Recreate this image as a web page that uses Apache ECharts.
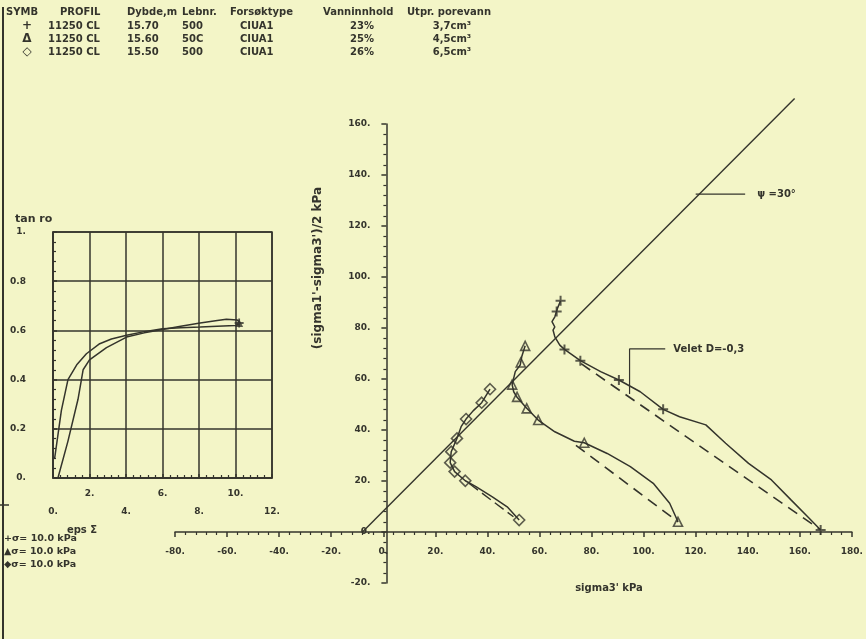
<!DOCTYPE html>
<html>
<head>
<meta charset="utf-8">
<script src="https://cdn.jsdelivr.net/npm/echarts@6/dist/echarts.min.js"></script>
<style>
html,body{margin:0;padding:0;background:#f3f5c7;}
#c{width:866px;height:639px;}
</style>
</head>
<body>
<div id="c"></div>
<script>
// ---------- header table ----------
const headerCols = ['SYMB','PROFIL','Dybde,m','Lebnr.','Forsøktype','Vanninnhold','Utpr. porevann'];
const rowSymbols = ['+','Δ','◇'];
const rowProfil = ['11250 CL','11250 CL','11250 CL'];
const rowDepth = ['15.70','15.60','15.50'];
const rowLabNr = ['500','50C','500'];
const rowTestType = ['CIUA1','CIUA1','CIUA1'];
const rowWater = ['23%','25%','26%'];
const rowPoreWater = ['3,7cm³','4,5cm³','6,5cm³'];

// ---------- left chart: tan ro vs eps ----------
const tanA = [[0.09,0.08],[0.46,0.275],[0.82,0.40],[1.3,0.46],[1.83,0.505],[2.56,0.546],[3.2,0.565],[4.03,0.58],[5.0,0.595],[6.0,0.607],[7.0,0.611],[8.06,0.614],[9.0,0.617],[9.98,0.62],[10.2,0.625]];
const tanB = [[0.27,0.0],[0.82,0.15],[1.37,0.32],[1.65,0.44],[2.0,0.48],[2.93,0.53],[4.03,0.573],[5.0,0.59],[6.0,0.604],[7.0,0.617],[8.06,0.63],[9.0,0.64],[9.5,0.645],[10.1,0.642],[10.25,0.63]];
const tanEnd = [[10.2,0.63]];

// ---------- right chart: stress paths ----------
const failureLine = [[-8,0],[158,170]];
const plusPath = [[168,0.8],[163.5,5.5],[156.7,12.5],[149.1,20.4],[140.3,26.9],[131.5,34.8],[123.9,42],[113.8,45.2],[107.5,48.1],[98.7,55],[90.5,59.6],[83.5,62.9],[75.7,67.2],[69.6,71.6],[67.8,73.3],[65.9,76.5],[65.2,79.2],[65.9,80.4],[64.8,82.5],[65.9,84.4],[66.9,87.7],[68.1,90.7]];
const plusMarks = [[168,0.8],[107.5,48.1],[90.5,59.6],[75.7,67.2],[69.6,71.6],[66.6,86.5],[68.1,90.7]];
const plusDash = [[76,66],[168,0.8]];
const triPath = [[113.2,4],[110,11.3],[103.7,19.1],[94.9,25.6],[86,30.8],[77.2,35],[73.4,35.6],[65.9,39.3],[59.5,43.9],[55.1,48.5],[51.4,52.8],[50.1,55],[49.5,57.8],[50.7,62.9],[52.6,65.5],[53.2,68.8],[54.5,73]];
const triMarks = [[113.2,4],[77.2,35],[59.5,43.9],[55.1,48.5],[51.4,53],[49.5,57.8],[52.8,66.5],[54.5,73]];
const triDash = [[74,34],[113.2,4]];
const diaPath = [[52.2,4.7],[47.6,9.9],[41.9,13.8],[35.6,17.8],[31.5,20.1],[27.4,23.7],[25.7,27.2],[26.1,31.5],[28.3,36.7],[29.9,41.3],[31.8,44.3],[34.5,47.5],[37.8,50.7],[41,56]];
const diaMarks = [[52.2,4.7],[31.5,20.1],[27.4,23.7],[25.7,27.2],[26.1,31.5],[28.3,36.7],[31.8,44.3],[37.8,50.7],[41,56]];
const diaDash = [[33,19],[50,6]];
const phiLeader = [[120,132.5],[139,132.5]];
const phiText = 'ψ =30°';
const dLeader = [[94.6,54.1],[94.6,71.8],[108.3,71.8]];
const dText = 'Velet D=-0,3';
const legendLines = ['+σ= 10.0 kPa','▲σ= 10.0 kPa','◆σ= 10.0 kPa'];

const INK = '#34342c';
const FONT = 'DejaVu Sans';
const PLUS = 'path://M4,0H6V4H10V6H6V10H4V6H0V4H4Z';

// right-chart frame (layout only)
const RG = {left:175, top:124, width:687, height:459};
const RX = {min:-80, max:180};
const RY = {min:-20, max:160};
const yAxisShift = -RG.width * (0 - RX.min) / (RX.max - RX.min);
const xAxisShift = -RG.height * (0 - RY.min) / (RY.max - RY.min);

const chart = echarts.init(document.getElementById('c'), null, {renderer:'canvas'});

function plainText(x, y, s, opt){
  opt = opt || {};
  return {type:'text', x:x, y:y, silent:true, rotation:opt.rot||0,
    style:{text:s, fill:INK, font:'bold ' + (opt.size||10) + 'px "' + FONT + '"',
      textAlign:opt.align||'left', textVerticalAlign:'middle'}};
}

const graphics = [];
graphics.push({type:'line', shape:{x1:3,y1:7,x2:3,y2:639}, style:{stroke:INK, lineWidth:2}});
graphics.push({type:'line', shape:{x1:0,y1:505,x2:9,y2:505}, style:{stroke:INK, lineWidth:1.5}});
const colX = [6,60,127,182,230,323,407];
headerCols.forEach((h,i)=>graphics.push(plainText(colX[i], 12, h, {size:10})));
const rowY = [26,39,52];
for (let r=0;r<3;r++){
  const y = rowY[r];
  graphics.push(plainText(27, y, rowSymbols[r], {align:'center', size:12}));
  graphics.push(plainText(48, y, rowProfil[r]));
  graphics.push(plainText(127, y, rowDepth[r]));
  graphics.push(plainText(182, y, rowLabNr[r]));
  graphics.push(plainText(240, y, rowTestType[r]));
  graphics.push(plainText(362, y, rowWater[r], {align:'center'}));
  graphics.push(plainText(452, y, rowPoreWater[r], {align:'center'}));
}
graphics.push(plainText(15, 219, 'tan ro', {size:11}));
graphics.push(plainText(82, 530, 'eps Σ', {align:'center'}));
legendLines.forEach((s,i)=>graphics.push(plainText(4, 539 + i*13, s, {size:9.5})));
graphics.push(plainText(609, 588, "sigma3' kPa", {align:'center'}));
graphics.push(plainText(318, 268, "(sigma1'-sigma3')/2 kPa", {align:'center', rot:Math.PI/2, size:12}));

const lineBase = {type:'line', showSymbol:false, symbol:'none', silent:true, animation:false,
  lineStyle:{color:INK, width:1.5}};
function pathSeries(data, xi, yi, extra){
  return Object.assign({}, lineBase, {data:data, xAxisIndex:xi, yAxisIndex:yi}, extra||{});
}
function markSeries(data, symbol, size, xi, yi, filled){
  return {type:'scatter', data:data, xAxisIndex:xi, yAxisIndex:yi, symbol:symbol, symbolSize:size,
    silent:true, animation:false,
    itemStyle: filled ? {color:INK} : {color:'#f3f5c7', borderColor:INK, borderWidth:1.6}};
}
const labelStyle = {color:INK, fontFamily:FONT, fontWeight:'bold', fontSize:9};

const option = {
  backgroundColor:'#f3f5c7',
  animation:false,
  graphic: graphics,
  grid:[
    {left:53, top:232, width:219, height:246, show:true, borderColor:INK, borderWidth:1.5, backgroundColor:'transparent'},
    RG
  ],
  xAxis:[
    {gridIndex:0, type:'value', position:'bottom', min:0, max:12, interval:2,
     axisLine:{show:true, lineStyle:{color:INK, width:1.5}},
     axisTick:{show:true, inside:true, length:4, lineStyle:{color:INK, width:1.5}},
     minorTick:{show:true, splitNumber:5, length:3, lineStyle:{color:INK, width:1.2}},
     splitLine:{show:true, lineStyle:{color:INK, width:1.5}},
     axisLabel:Object.assign({margin:11, formatter:v=>(v%4===2? v+'.' : '')}, labelStyle)},
    {gridIndex:0, type:'value', position:'bottom', min:0, max:12, interval:2,
     axisLine:{show:false}, axisTick:{show:false}, splitLine:{show:false},
     axisLabel:Object.assign({margin:29, formatter:v=>(v%4===0? v+'.' : '')}, labelStyle)},
    {gridIndex:1, type:'value', position:'bottom', min:RX.min, max:RX.max, interval:20, offset:xAxisShift,
     axisLine:{show:true, onZero:false, lineStyle:{color:INK, width:1.5}},
     axisTick:{show:true, inside:false, length:5, lineStyle:{color:INK, width:1.5}},
     minorTick:{show:true, splitNumber:5, length:3, lineStyle:{color:INK, width:1.2}},
     splitLine:{show:false},
     axisLabel:Object.assign({margin:15, formatter:v=>v+'.'}, labelStyle)}
  ],
  yAxis:[
    {gridIndex:0, type:'value', min:0, max:1, interval:0.2,
     axisLine:{show:true, lineStyle:{color:INK, width:1.5}},
     axisTick:{show:true, inside:true, length:4, lineStyle:{color:INK, width:1.5}},
     minorTick:{show:true, splitNumber:5, length:3, lineStyle:{color:INK, width:1.2}},
     splitLine:{show:true, lineStyle:{color:INK, width:1.5}},
     axisLabel:Object.assign({margin:27, formatter:v=>(v===0?'0.':v===1?'1.':v.toFixed(1))}, labelStyle)},
    {gridIndex:1, type:'value', position:'left', min:RY.min, max:RY.max, interval:20, offset:yAxisShift,
     axisLine:{show:true, onZero:false, lineStyle:{color:INK, width:1.5}},
     axisTick:{show:true, inside:false, length:5, lineStyle:{color:INK, width:1.5}},
     minorTick:{show:true, splitNumber:5, length:3, lineStyle:{color:INK, width:1.2}},
     splitLine:{show:false},
     axisLabel:Object.assign({margin:16, formatter:v=>v+'.'}, labelStyle)}
  ],
  series:[
    pathSeries(tanA,0,0),
    pathSeries(tanB,0,0),
    markSeries(tanEnd, PLUS, 9, 0, 0, true),
    markSeries(tanEnd, 'triangle', 8, 0, 0, true),
    pathSeries(failureLine,2,1,{clip:false, lineStyle:{color:INK, width:1.4}}),
    pathSeries(plusPath,2,1),
    pathSeries(plusDash,2,1,{lineStyle:{color:INK, width:1.6, type:[11,7]}}),
    markSeries(plusMarks, PLUS, 10, 2, 1, true),
    pathSeries(triPath,2,1),
    pathSeries(triDash,2,1,{lineStyle:{color:INK, width:1.6, type:[11,7]}}),
    markSeries(triMarks, 'triangle', 9, 2, 1, false),
    pathSeries(diaPath,2,1),
    pathSeries(diaDash,2,1,{lineStyle:{color:INK, width:1.4, type:[11,5]}}),
    markSeries(diaMarks, 'diamond', 11, 2, 1, false),
    pathSeries(phiLeader,2,1,{lineStyle:{color:INK, width:1.2},
      endLabel:{show:true, formatter:phiText, distance:12, color:INK, fontFamily:FONT, fontWeight:'bold', fontSize:10}}),
    pathSeries(dLeader,2,1,{lineStyle:{color:INK, width:1.2},
      endLabel:{show:true, formatter:dText, distance:8, color:INK, fontFamily:FONT, fontWeight:'bold', fontSize:10}})
  ]
};
chart.setOption(option);
</script>
</body>
</html>
